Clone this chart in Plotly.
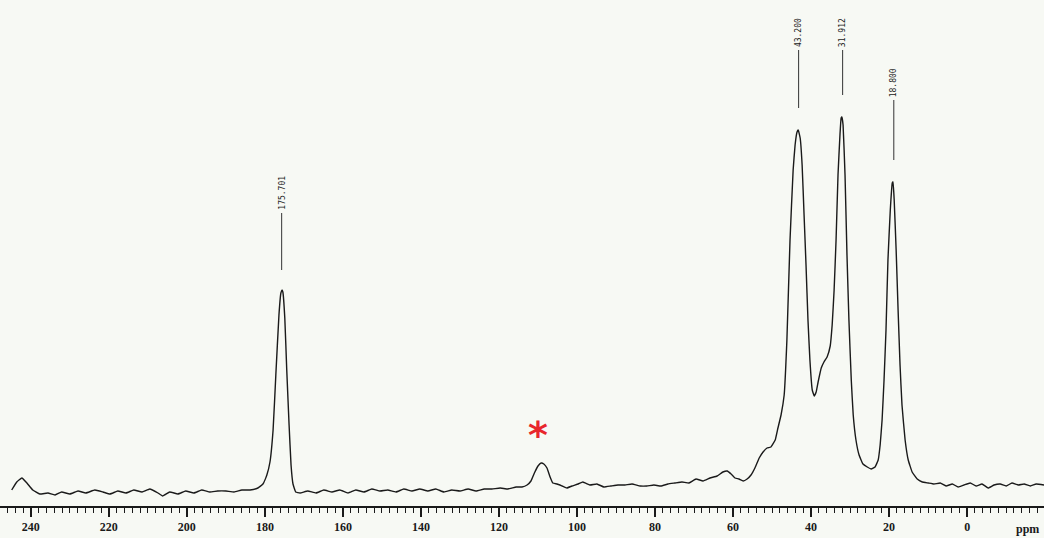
import plotly.graph_objects as go

# Chemical shift (ppm) and relative intensity
ppm = [244.9, 243.6, 242.3, 241.0, 239.5, 237.7, 235.6, 233.8, 232.1, 230.0,
       227.9, 225.9, 223.6, 221.5, 219.7, 217.7, 215.6, 213.6, 211.5, 209.5,
       207.4, 206.2, 204.4, 202.3, 200.3, 198.2, 196.2, 194.1, 192.1, 190.0,
       187.9, 185.9, 183.8, 181.8, 180.5, 179.5, 178.7, 177.9, 177.2, 176.4,
       175.9, 175.6, 175.4, 174.9, 174.4, 173.8, 173.3, 172.8, 172.1, 171.0,
       169.0, 166.9, 164.9, 162.8, 160.8, 158.7, 156.7, 154.6, 152.6, 150.5,
       148.5, 146.4, 144.4, 142.3, 140.3, 138.2, 136.2, 134.1, 132.1, 130.0,
       127.9, 125.9, 123.8, 121.8, 119.7, 117.7, 115.6, 114.1, 112.8, 111.8,
       110.8, 110.0, 109.2, 108.5, 107.7, 106.9, 106.2, 105.1, 103.8, 102.6,
       101.3, 99.7, 98.5, 96.7, 94.9, 93.1, 91.3, 89.5, 87.7, 85.9,
       83.8, 82.1, 80.3, 78.5, 76.7, 74.9, 73.1, 71.3, 69.5, 67.7,
       65.9, 64.1, 62.6, 61.5, 60.5, 59.5, 58.5, 57.4, 56.4, 55.4,
       54.4, 53.3, 52.3, 51.3, 50.3, 49.2, 48.5, 47.7, 46.9, 46.2,
       45.4, 44.6, 44.1, 43.6, 43.3, 42.8, 42.3, 41.8, 41.3, 40.8,
       40.3, 39.7, 39.2, 38.7, 38.2, 37.4, 36.7, 35.9, 35.1, 34.6,
       34.1, 33.6, 33.1, 32.6, 32.3, 32.1, 31.8, 31.3, 30.8, 30.3,
       29.7, 29.2, 28.5, 27.7, 26.7, 25.6, 24.6, 23.6, 22.8, 22.3,
       21.8, 21.3, 20.8, 20.3, 19.7, 19.2, 19.0, 18.7, 18.2, 17.7,
       17.2, 16.7, 15.9, 15.1, 14.1, 12.8, 11.5, 10.0, 8.5, 6.9,
       5.4, 3.8, 2.3, 0.8, -0.8, -2.3, -3.8, -5.4, -6.9, -8.5,
       -10.0, -11.5, -13.1, -14.6, -16.2, -17.7, -19.7]
intensity = [0, 8, 12, 7, 0, -4, -3, -5, -2, -4,
             -1, -3, 0, -2, -4, -1, -3, 0, -2, 1,
             -3, -6, -2, -4, -1, -3, 0, -2, -1, -1,
             -2, 0, 0, 2, 6, 15, 28, 60, 115, 175,
             197, 200, 198, 172, 120, 65, 25, 6, -2, -3,
             -1, -3, 0, -2, 0, -3, 0, -2, 1, -1,
             0, -2, 1, -1, 1, -1, 1, -2, 0, -1,
             1, -1, 1, 1, 2, 1, 3, 3, 5, 9,
             18, 24, 27, 26, 22, 13, 7, 6, 4, 2,
             4, 6, 8, 5, 6, 3, 4, 5, 5, 6,
             4, 4, 5, 4, 6, 7, 8, 7, 11, 9,
             12, 14, 18, 19, 16, 12, 11, 9, 11, 15,
             22, 32, 38, 42, 43, 50, 62, 75, 95, 150,
             250, 320, 345, 358, 360, 352, 325, 275, 225, 170,
             130, 100, 94, 98, 108, 122, 128, 133, 144, 165,
             200, 250, 315, 355, 372, 373, 365, 315, 235, 170,
             110, 75, 50, 35, 26, 23, 21, 23, 30, 45,
             70, 110, 160, 230, 280, 307, 308, 290, 240, 180,
             125, 85, 50, 30, 18, 11, 8, 7, 6, 7,
             4, 6, 3, 5, 7, 4, 6, 2, 5, 6,
             4, 7, 5, 6, 4, 6, 5]

# Peak picks
peak_labels = ["175.701", "43.200", "31.912", "18.800"]
peak_ppm = [175.701, 43.200, 31.912, 18.800]
pick_low = [220, 382, 395, 330]
pick_high = [277, 440, 440, 390]

# Axis ticks
tick_vals = [240, 220, 200, 180, 160, 140, 120, 100, 80, 60, 40, 20, 0]
tick_text = [str(v) for v in tick_vals]

# Impurity / spinning-sideband marker
star_ppm = 110.0
star_int = 55

ink = "#1a1a1a"
fig = go.Figure()

fig.add_trace(go.Scatter(x=ppm, y=intensity, mode="lines",
                         line=dict(color=ink, width=1.4, shape="spline", smoothing=0.3),
                         hoverinfo="skip", showlegend=False))

lx, ly = [], []
for p, lo, hi in zip(peak_ppm, pick_low, pick_high):
    lx += [p, p, None]
    ly += [lo, hi, None]
fig.add_trace(go.Scatter(x=lx, y=ly, mode="lines",
                         line=dict(color="#333333", width=1),
                         hoverinfo="skip", showlegend=False))

for p, hi, lab in zip(peak_ppm, pick_high, peak_labels):
    fig.add_annotation(x=p, y=hi, text=lab, textangle=-90, showarrow=False,
                       xanchor="center", yanchor="bottom", yshift=1,
                       font=dict(family="DejaVu Sans Mono", size=8, color=ink))

fig.add_annotation(x=star_ppm, y=star_int, text="*", showarrow=False,
                   xanchor="center", yanchor="middle",
                   font=dict(family="DejaVu Sans", size=38, color="#e8262c", weight="bold"))

fig.add_annotation(x=-15.4, y=0, yref="paper", text="ppm", showarrow=False,
                   xanchor="center", yanchor="top", yshift=-14,
                   font=dict(family="Liberation Serif", size=12, color=ink, weight="bold"))

fig.update_xaxes(range=[247.9, -19.7], showgrid=False, zeroline=False,
                 showline=True, linecolor=ink, linewidth=1.5,
                 ticks="outside", ticklen=9, tickwidth=1.5, tickcolor=ink,
                 tickvals=tick_vals, ticktext=tick_text,
                 tickfont=dict(family="Liberation Serif", size=12, color=ink, weight="bold"),
                 minor=dict(dtick=2, ticks="outside", ticklen=5, tickwidth=1, tickcolor=ink),
                 fixedrange=True)
fig.update_yaxes(range=[-16, 490], visible=False, fixedrange=True)

fig.update_layout(width=1044, height=538,
                  margin=dict(l=0, r=0, t=0, b=32),
                  paper_bgcolor="#f7f9f4", plot_bgcolor="#f7f9f4",
                  showlegend=False)

fig.write_html("out.html", config={"displayModeBar": False},
               post_script="document.body.style.margin='0';document.body.style.background='#f7f9f4';")
